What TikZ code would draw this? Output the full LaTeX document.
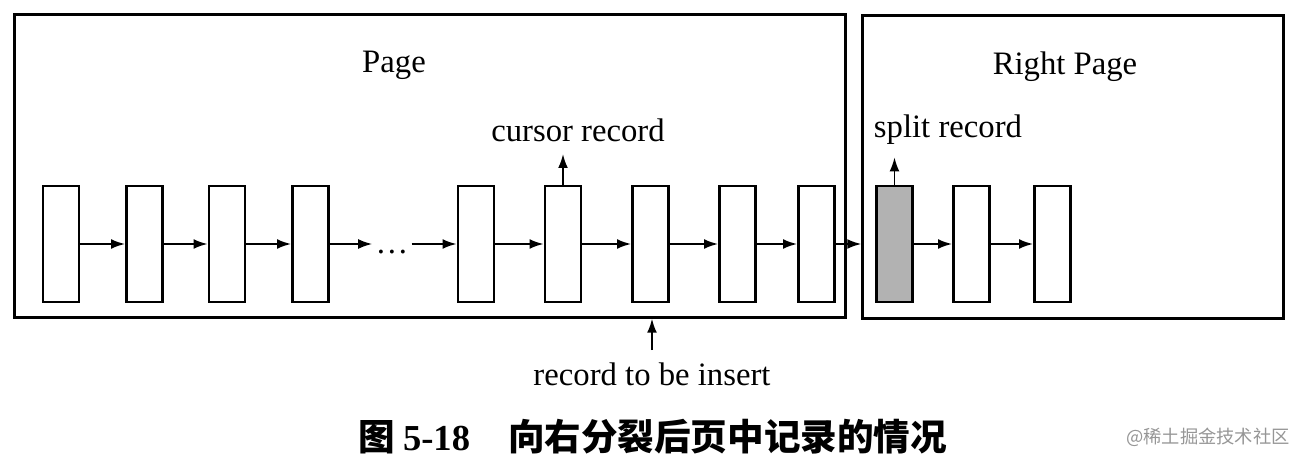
\documentclass[tikz,border=0pt]{standalone}
\usepackage{fontspec}
\setmainfont{Liberation Serif}
\newfontfamily\cjk{Noto Sans CJK SC}
\usetikzlibrary{arrows.meta,positioning}
\definecolor{splitgray}{RGB}{178,178,178}
\definecolor{markgray}{RGB}{150,150,150}

\begin{document}
\begin{tikzpicture}[x=0.01cm, y=-0.01cm,
  every node/.style={font=\fontsize{9.3}{11}\selectfont},
  pagebox/.style={draw, line width=0.85pt, inner sep=0, minimum height=3.02cm},
  recbox/.style={draw, line width=0.75pt, inner sep=0, minimum width=0.36cm, minimum height=1.16cm},
  link/.style={-{Latex[length=4pt,width=2.8pt]}, line width=0.55pt}]
  \useasboundingbox (0,0) rectangle (1302,464);
  % the two pages
  \node[pagebox, minimum width=8.3cm] (page) at (430,166) {};
  \node[pagebox, minimum width=4.2cm] (rpage) at (1073,167) {};
  \node at (394,65) {Page};
  \node at (1065,67) {Right Page};
  % records left in the page
  \node[recbox] (r1) at (61,244) {};
  \node[recbox] (r2) at (144.5,244) {};
  \node[recbox] (r3) at (227,244) {};
  \node[recbox] (r4) at (310.5,244) {};
  \node[inner sep=0, minimum width=0.38cm] (dots) at (392,244) {\smash{\raisebox{-2.6pt}{\dots}}};
  \node[recbox] (r5) at (476,244) {};
  \node[recbox] (r6) at (563,244) {};
  \node[recbox] (r7) at (650.5,244) {};
  \node[recbox] (r8) at (737.5,244) {};
  \node[recbox] (r9) at (816.5,244) {};
  % records moved to the right page (first one is the split record)
  \node[recbox, fill=splitgray] (s1) at (894.5,244) {};
  \node[recbox] (s2) at (971.5,244) {};
  \node[recbox] (s3) at (1052.5,244) {};
  % next-record links
  \draw[link] (r1) -- (r2);
  \draw[link] (r2) -- (r3);
  \draw[link] (r3) -- (r4);
  \draw[link] (r4) -- (dots);
  \draw[link] (dots) -- (r5);
  \draw[link] (r5) -- (r6);
  \draw[link] (r6) -- (r7);
  \draw[link] (r7) -- (r8);
  \draw[link] (r8) -- (r9);
  \draw[link] (r9.east) -- (r9.east -| rpage.west);
  \draw[link] (s1) -- (s2);
  \draw[link] (s2) -- (s3);
  % pointers
  \node (cursor) at (578,130) {cursor record};
  \draw[link] (r6.north) -- (r6.north |- cursor.south);
  \node (split) at (948,130) {split record};
  \draw[link] (s1.north) -- (s1.north |- split.south);
  \node (ins) at (652,374) {record to be insert};
  \draw[link] (ins.north) -- (ins.north |- page.south);
  % caption and watermark
  \node[anchor=west, font=\fontsize{10.4}{12}\selectfont\bfseries] (caption) at (346,437)
    {{\cjk 图}\hspace{0.08cm}5-18\hspace{0.38cm}{\cjk 向右分裂后页中记录的情况}};
  \node[text=markgray, font=\fontsize{5.2}{6}\selectfont\cjk] (mark) at (1208,437) {@稀土掘金技术社区};
\end{tikzpicture}
\end{document}
